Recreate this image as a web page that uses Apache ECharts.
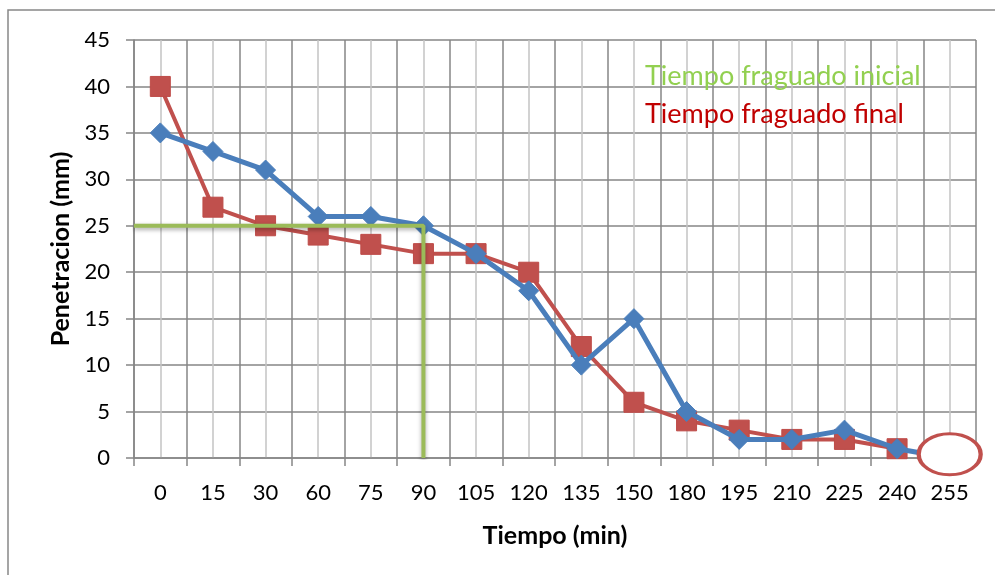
<!DOCTYPE html>
<html>
<head>
<meta charset="utf-8">
<script src="https://cdn.jsdelivr.net/npm/echarts@6/dist/echarts.min.js"></script>
<style>html,body{margin:0;padding:0;background:#fff;}#c{width:995px;height:575px;}</style>
</head>
<body>
<div id="c"></div>
<script>
const categories = ['0','15','30','60','75','90','105','120','135','150','180','195','210','225','240','255'];
const blueValues = [35,33,31,26,26,25,22,18,10,15,5,2,2,3,1,0];
const redValues = [40,27,25,24,23,22,22,20,12,6,4,3,2,2,1,null];
// green guide line (index along the boundary axis, penetration)
const greenGuide = [[0,25],[5.5,25],[5.5,0]];
// red ellipse marking the 255 point
const ellipsePoint = [[15, 0.4]];
const yTicks = {min:0, max:45, interval:5};

const font = 'Lato, "Open Sans", sans-serif';
const major = '#868686', minor = '#C4C4C4';

const chart = echarts.init(document.getElementById('c'));
chart.setOption({
  animation: false,
  backgroundColor: '#fff',
  grid: {left:134, right:19, top:40, bottom:117, containLabel:false},
  xAxis: [{
    type:'category', data: categories, boundaryGap:true,
    name:'Tiempo (min)', nameLocation:'middle', nameGap:65,
    nameTextStyle:{fontFamily:font, fontSize:25, fontWeight:'bold', color:'#000'},
    axisLine:{show:true, lineStyle:{color:major, width:1.5}},
    axisTick:{show:true, length:8, lineStyle:{color:major, width:1.5}},
    axisLabel:{fontFamily:font, fontSize:22, color:'#000', margin:24},
    splitLine:{show:false}
  },{
    type:'value', min:0, max:16, interval:1, position:'bottom',
    axisLine:{show:false}, axisTick:{show:false}, axisLabel:{show:false},
    splitLine:{show:true, lineStyle:{color:major, width:1.5}},
    minorTick:{show:false, splitNumber:2},
    minorSplitLine:{show:true, lineStyle:{color:minor, width:1.5}}
  }],
  yAxis: [{
    type:'value', min:yTicks.min, max:yTicks.max, interval:yTicks.interval,
    name:'Penetracion (mm)', nameLocation:'middle', nameGap:61, nameRotate:90,
    nameTextStyle:{fontFamily:font, fontSize:25, fontWeight:'bold', color:'#000'},
    axisLine:{show:true, lineStyle:{color:major, width:1.5}},
    axisTick:{show:true, length:8, lineStyle:{color:major, width:1.5}},
    axisLabel:{fontFamily:font, fontSize:22, color:'#000', margin:24},
    splitLine:{show:true, lineStyle:{color:major, width:1.5}}
  }],
  series: [{
    type:'line', data: redValues, xAxisIndex:0, yAxisIndex:0,
    symbol:'rect', symbolSize:20, z:3,
    lineStyle:{color:'#C0504D', width:4},
    itemStyle:{color:'#C0504D', borderColor:'#BE4B48', borderWidth:1}
  },{
    type:'line', data: blueValues, xAxisIndex:0, yAxisIndex:0,
    symbol:'diamond', symbolSize:20, z:4,
    lineStyle:{color:'#4A7EBB', width:5},
    itemStyle:{color:'#4A7EBB', borderColor:'#4A7EBB', borderWidth:1}
  },{
    type:'line', data: greenGuide, xAxisIndex:1, yAxisIndex:0,
    symbol:'none', z:5,
    lineStyle:{color:'#9BBB59', width:4, shadowColor:'rgba(0,0,0,0.35)', shadowBlur:4, shadowOffsetY:2}
  },{
    type:'scatter', data: ellipsePoint, xAxisIndex:0, yAxisIndex:0, clip:false,
    symbol:'circle', symbolSize:[62,41], z:6,
    itemStyle:{color:'#fff', opacity:1, borderColor:'#C0504D', borderWidth:3.5}
  }],
  graphic: [{
    type:'rect', shape:{x:8, y:10, width:1000, height:600}, z:100, silent:true,
    style:{fill:'none', stroke:'#888', lineWidth:1.5}
  },{
    type:'text', left:645, top:63, z:100,
    style:{text:'Tiempo fraguado inicial', fill:'#92D050', font:'27px ' + font}
  },{
    type:'text', left:645, top:101, z:100,
    style:{text:'Tiempo fraguado final', fill:'#C00000', font:'27px ' + font}
  }]
});
</script>
</body>
</html>
